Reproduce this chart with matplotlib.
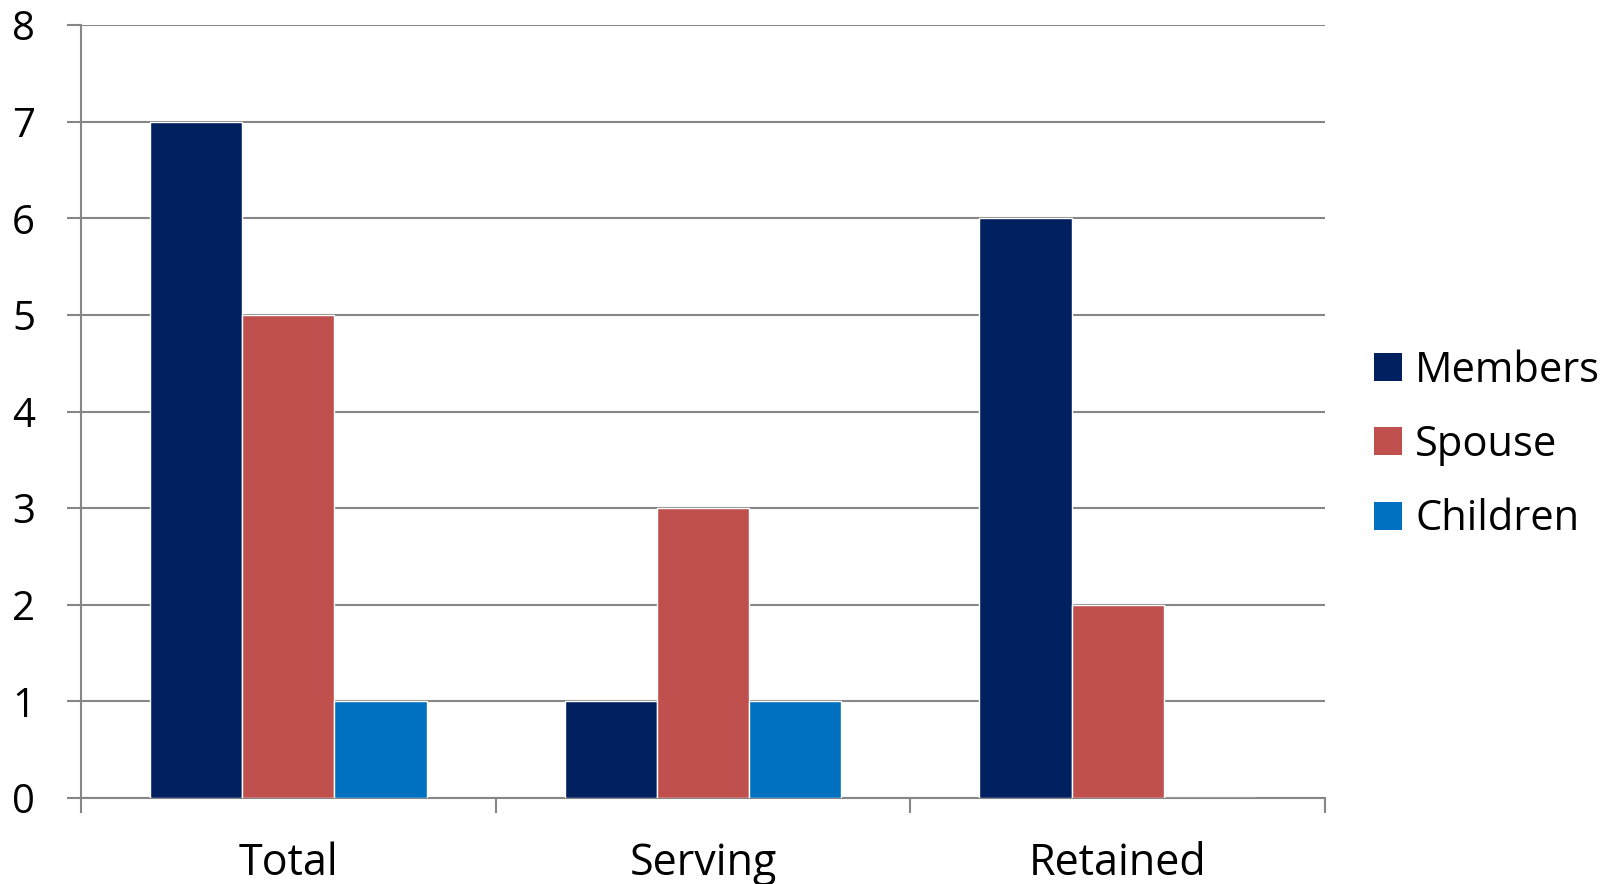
import numpy as np
import matplotlib
matplotlib.use("Agg")
import matplotlib.pyplot as plt
from matplotlib.patches import Patch

categories = ["Total", "Serving", "Retained"]
members = [7, 1, 6]
spouse = [5, 3, 2]
children = [1, 1, 0]

series = [("Members", members, "#002060"),
          ("Spouse", spouse, "#C0504D"),
          ("Children", children, "#0070C0")]

plt.rcParams["font.family"] = ["Open Sans", "DejaVu Sans"]

fig = plt.figure(figsize=(16.19, 8.84), dpi=100)
ax = fig.add_axes([81 / 1619, 1 - 798 / 884, (1325 - 81) / 1619, (798 - 25) / 884])

x = np.arange(len(categories))
w = 1 / 4.5
for i, (name, vals, col) in enumerate(series):
    ax.bar(x + (i - 1) * w, vals, width=w, color=col, edgecolor="white",
           linewidth=1, label=name, zorder=3)

ax.set_xlim(-0.5, 2.5)
ax.set_ylim(0, 8)
ax.set_yticks(range(0, 9))
ax.yaxis.grid(True, color="#868686", lw=1.5, zorder=0)
for s in ("top", "right"):
    ax.spines[s].set_visible(False)
for s in ("left", "bottom"):
    ax.spines[s].set_color("#868686")
    ax.spines[s].set_linewidth(1.5)

ax.tick_params(axis="y", length=10, width=1.5, color="#868686", pad=23, labelsize=29)
ax.set_xticks(x)
ax.set_xticklabels(categories)
ax.tick_params(axis="x", which="major", length=0, pad=31, labelsize=31)
ax.set_xticks([-0.5, 0.5, 1.5, 2.5], minor=True)
ax.tick_params(axis="x", which="minor", length=11, width=1.5, color="#868686")

handles = [Patch(facecolor=c, edgecolor="none", label=n) for n, _, c in series]
fig.legend(handles=handles, loc="center left", bbox_to_anchor=(1374 / 1619, 1 - 445 / 884),
           frameon=False, fontsize=30, handlelength=0.66, handleheight=0.66,
           handletextpad=0.33, labelspacing=0.78, borderpad=0, borderaxespad=0)

fig.savefig("out.png", dpi=100)
